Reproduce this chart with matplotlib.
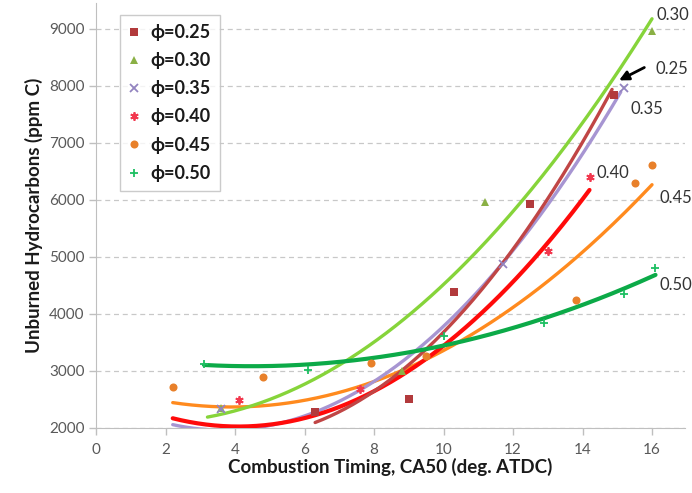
import numpy as np
import matplotlib
matplotlib.use("Agg")
import matplotlib.pyplot as plt

plt.rcParams['font.family'] = ['Lato', 'DejaVu Sans']

# ---------------- data ----------------
series_labels = ["ϕ=0.25", "ϕ=0.30", "ϕ=0.35", "ϕ=0.40", "ϕ=0.45", "ϕ=0.50"]
end_labels = ["0.25", "0.30", "0.35", "0.40", "0.45", "0.50"]

ca50_025 = [6.3, 9.0, 10.3, 12.5, 14.9]
uhc_025 = [2280, 2500, 4380, 5920, 7840]
ca50_030 = [3.6, 8.8, 11.2, 16.0]
uhc_030 = [2340, 3000, 5950, 8960]
ca50_035 = [3.6, 11.7, 15.2]
uhc_035 = [2330, 4870, 7950]
ca50_040 = [4.1, 7.6, 13.0, 14.2]
uhc_040 = [2480, 2670, 5100, 6400]
ca50_045 = [2.2, 4.8, 7.9, 9.5, 13.8, 15.5, 16.0]
uhc_045 = [2720, 2890, 3140, 3250, 4240, 6290, 6600]
ca50_050 = [3.1, 6.1, 10.0, 12.9, 15.2, 16.1]
uhc_050 = [3120, 3010, 3600, 3830, 4340, 4800]

# points
trend_x_025 = [6.3, 8.5, 10.2, 12.5, 14.85]
trend_y_025 = [2100, 2800, 3900, 5500, 7950]
trend_x_030 = [3.2, 7.5, 10.0, 16.0]
trend_y_030 = [2190, 3275, 4530, 9170]
trend_x_035 = [2.2, 8.5, 11.7, 15.1]
trend_y_035 = [2060, 2980, 4940, 7870]
trend_x_040 = [2.2, 8.5, 14.2]
trend_y_040 = [2165, 2810, 6170]
trend_x_045 = [2.2, 8.5, 13.9, 16.0]
trend_y_045 = [2440, 2925, 5030, 6260]
trend_x_050 = [3.1, 6.1, 12.9, 16.1]
trend_y_050 = [3100, 3110, 3920, 4680]

x_ticks = [0, 2, 4, 6, 8, 10, 12, 14, 16]
y_ticks = [2000, 3000, 4000, 5000, 6000, 7000, 8000, 9000]

# ---------------- styles ----------------
pts = [(ca50_025, uhc_025), (ca50_030, uhc_030), (ca50_035, uhc_035),
       (ca50_040, uhc_040), (ca50_045, uhc_045), (ca50_050, uhc_050)]
trends = [(trend_x_025, trend_y_025), (trend_x_030, trend_y_030),
          (trend_x_035, trend_y_035), (trend_x_040, trend_y_040),
          (trend_x_045, trend_y_045), (trend_x_050, trend_y_050)]
marker_colors = ["#B23A3C", "#8AB045", "#9384C0", "#F2384E", "#E8802A", "#1DBF62"]
line_colors = ["#C04545", "#86D43A", "#A795D2", "#FF0A0A", "#FF8A1E", "#0CAA48"]
markers = ["s", "^", "x", (6, 2, 0), "o", "+"]
msizes = [5.2, 5.5, 5.5, 6, 5.8, 6]
lwidths = [2.4, 2.4, 2.4, 3.0, 2.4, 3.0]
zorders = [5, 6, 3, 4, 2, 7]

fig = plt.figure(figsize=(6.92, 4.93), dpi=100)
ax = fig.add_axes([0.1392, 0.1325, 0.8507, 0.8615])

for i in range(6):
    tx, ty = trends[i]
    coef = np.polyfit(tx, ty, 2)
    xs = np.linspace(min(tx), max(tx), 200)
    ax.plot(xs, np.polyval(coef, xs), color=line_colors[i], lw=lwidths[i],
            solid_capstyle='round', zorder=zorders[i])

handles = []
for i in range(6):
    x, y = pts[i]
    mk = markers[i]
    kw = dict(marker=mk, linestyle='none', color=marker_colors[i],
              markersize=msizes[i], zorder=10)
    if mk in ("x", "+") or isinstance(mk, tuple):
        kw['markeredgewidth'] = 1.3
    else:
        kw['markeredgewidth'] = 0
    h, = ax.plot(x, y, label=series_labels[i], **kw)
    handles.append(h)

ax.set_xlim(0, 16.95)
ax.set_ylim(2000, 9450)
ax.set_xticks(x_ticks)
ax.set_yticks(y_ticks)
ax.yaxis.grid(True, linestyle=(0, (4, 3)), color="#C8C8C8", lw=0.9)
ax.set_axisbelow(True)
for s in ("top", "right"):
    ax.spines[s].set_visible(False)
for s in ("left", "bottom"):
    ax.spines[s].set_color("#BFBFBF")
ax.tick_params(axis='both', colors="#BFBFBF", labelcolor="#595959",
               labelsize=11, length=5, width=1)
ax.tick_params(axis='x', pad=6)

ax.set_xlabel("Combustion Timing, CA50 (deg. ATDC)", fontsize=13.5,
              fontweight='bold', color="#1A1A1A", labelpad=1)
ax.set_ylabel("Unburned Hydrocarbons (ppm C)", fontsize=13.5,
              fontweight='bold', color="#1A1A1A", labelpad=4)

leg = ax.legend(handles=handles, loc='upper left', bbox_to_anchor=(0.04, 0.972),
                borderaxespad=0, frameon=True, fancybox=False,
                handlelength=0.6, handletextpad=0.6, labelspacing=0.62,
                borderpad=0.5, prop={'weight': 'bold', 'size': 13})
leg.get_frame().set_edgecolor("#BFBFBF")
leg.get_frame().set_linewidth(1.0)
for t in leg.get_texts():
    t.set_color("#1A1A1A")

# end-of-curve labels
lab_kw = dict(fontsize=12, color="#333333", va='center', ha='left', clip_on=False)
ax.text(16.14, 9240, end_labels[1], **lab_kw)
ax.text(16.1, 8290, end_labels[0], **lab_kw)
ax.text(15.37, 7590, end_labels[2], **lab_kw)
ax.text(14.39, 6460, end_labels[3], **lab_kw)
ax.text(16.21, 6030, end_labels[4], **lab_kw)
ax.text(16.21, 4510, end_labels[5], **lab_kw)
ax.annotate("", xy=(14.98, 8070), xytext=(15.85, 8340),
            arrowprops=dict(arrowstyle='-|>', color='black', lw=2,
                            mutation_scale=14))

fig.savefig("out.png", dpi=100)
